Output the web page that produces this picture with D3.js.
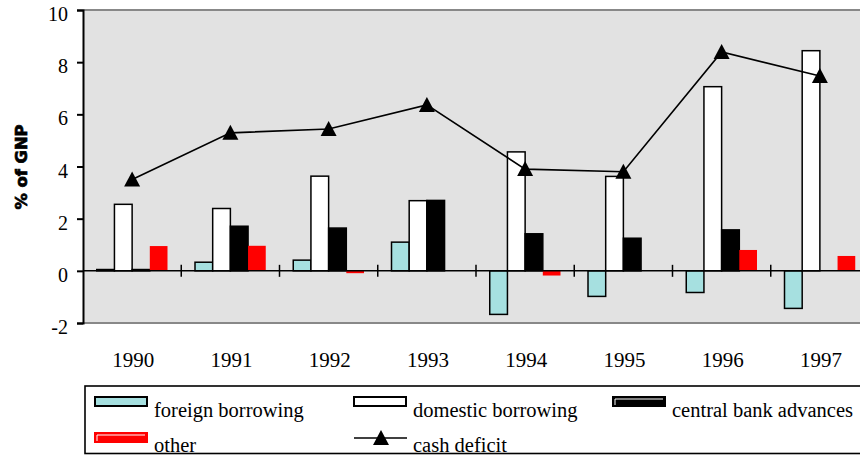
<!DOCTYPE html>
<html>
<head>
<meta charset="utf-8">
<script src="https://cdn.jsdelivr.net/npm/d3@7"></script>
<style>
  html, body { margin: 0; padding: 0; background: #fff; }
  svg { display: block; }
</style>
</head>
<body>
<svg id="chart" width="860" height="455"></svg>
<script>
// Financing of the budget deficit, % of GNP
const years = ["1990", "1991", "1992", "1993", "1994", "1995", "1996", "1997"];
const foreignBorrowing = [0.05, 0.33, 0.41, 1.1, -1.67, -0.98, -0.83, -1.44];
const domesticBorrowing = [2.55, 2.39, 3.63, 2.69, 4.56, 3.62, 7.06, 8.44];
const centralBankAdvances = [0.05, 1.71, 1.64, 2.7, 1.42, 1.25, 1.57, 0];
const other = [0.95, 0.96, -0.09, 0, -0.18, 0, 0.8, 0.57];
const cashDeficit = [3.5, 5.29, 5.44, 6.36, 3.9, 3.8, 8.39, 7.47];
const yTicks = [-2, 0, 2, 4, 6, 8, 10];

const SERIF = "'Liberation Serif', 'Times New Roman', Times, serif";

const series = [
  { key: "foreign", label: "foreign borrowing", values: foreignBorrowing, fill: "#a6e0e0", stroke: "#000" },
  { key: "domestic", label: "domestic borrowing", values: domesticBorrowing, fill: "#ffffff", stroke: "#000" },
  { key: "central", label: "central bank advances", values: centralBankAdvances, fill: "#000000", stroke: "#000" },
  { key: "other", label: "other", values: other, fill: "#ff0000", stroke: "none" }
];

const svg = d3.select("#chart");
const plot = { left: 83, right: 869, top: 10, bottom: 323 };

const x0 = d3.scaleBand().domain(years).range([plot.left, plot.right]).padding(0);
const bw = x0.bandwidth();
const x1 = d3.scaleBand().domain(series.map(s => s.key))
  .range([bw * 0.14, bw * 0.86]).padding(0);
const y = d3.scaleLinear().domain([-2, 10]).range([plot.bottom, plot.top]);

// plot background
svg.append("rect")
  .attr("x", plot.left).attr("y", plot.top)
  .attr("width", plot.right - plot.left).attr("height", plot.bottom - plot.top)
  .attr("fill", "#e2e2e2");
svg.append("line")
  .attr("x1", plot.left).attr("x2", plot.right)
  .attr("y1", plot.top).attr("y2", plot.top)
  .attr("stroke", "#888").attr("stroke-width", 2);
svg.append("line")
  .attr("x1", plot.left).attr("x2", plot.right)
  .attr("y1", plot.bottom).attr("y2", plot.bottom)
  .attr("stroke", "#888").attr("stroke-width", 2);

// bars
const groups = svg.append("g").selectAll("g")
  .data(years)
  .join("g")
  .attr("transform", d => `translate(${x0(d)},0)`);

groups.selectAll("rect")
  .data((d, i) => series.map(s => ({ s, v: s.values[i] })))
  .join("rect")
  .filter(d => d.v !== 0)
  .attr("x", d => x1(d.s.key))
  .attr("width", x1.bandwidth())
  .attr("y", d => y(Math.max(0, d.v)))
  .attr("height", d => Math.abs(y(d.v) - y(0)))
  .attr("fill", d => d.s.fill)
  .attr("stroke", d => d.s.stroke)
  .attr("stroke-width", 1.5);

// zero line with category separators
svg.append("line")
  .attr("x1", plot.left).attr("x2", plot.right)
  .attr("y1", y(0)).attr("y2", y(0))
  .attr("stroke", "#000").attr("stroke-width", 1.5);
svg.append("g").selectAll("line")
  .data(years.slice(1))
  .join("line")
  .attr("x1", d => x0(d)).attr("x2", d => x0(d))
  .attr("y1", y(0) - 6).attr("y2", y(0) + 6)
  .attr("stroke", "#000").attr("stroke-width", 1.5);

// y axis
const yAxis = svg.append("g")
  .attr("transform", `translate(${plot.left},0)`)
  .call(d3.axisLeft(y).tickValues(yTicks).tickSize(6).tickPadding(9).tickFormat(d => String(d)));
yAxis.select(".domain").attr("stroke", "#000").attr("stroke-width", 2);
yAxis.selectAll(".tick line").attr("stroke", "#000").attr("stroke-width", 2);
yAxis.selectAll(".tick text")
  .style("font-family", SERIF)
  .style("font-size", "20px")
  .attr("fill", "#000")
  .attr("dy", 10.5);

// y axis title
svg.append("text")
  .attr("transform", "translate(27,167) rotate(-90)")
  .attr("text-anchor", "middle")
  .style("font-family", "'DejaVu Sans', sans-serif")
  .style("font-weight", "bold")
  .style("font-size", "15px")
  .attr("stroke", "#000").attr("stroke-width", 0.7)
  .attr("textLength", 85).attr("lengthAdjust", "spacingAndGlyphs")
  .text("% of GNP");

// x labels
svg.append("g").selectAll("text")
  .data(years)
  .join("text")
  .attr("x", d => x0(d) + bw / 2 + 1)
  .attr("y", 367)
  .attr("text-anchor", "middle")
  .style("font-family", SERIF)
  .style("font-size", "21px")
  .text(d => d);

// cash deficit line with triangle markers
const cx = (d, i) => x0(years[i]) + bw / 2;
svg.append("path")
  .datum(cashDeficit)
  .attr("d", d3.line().x(cx).y(d => y(d)))
  .attr("fill", "none")
  .attr("stroke", "#000")
  .attr("stroke-width", 1.6);
const tri = "M0,-8L8,7L-8,7Z";
svg.append("g").selectAll("path")
  .data(cashDeficit)
  .join("path")
  .attr("transform", (d, i) => `translate(${cx(d, i)},${y(d)})`)
  .attr("d", tri)
  .attr("fill", "#000");

// legend
const lg = svg.append("g");
lg.append("rect")
  .attr("x", 85).attr("y", 386)
  .attr("width", 800).attr("height", 67.5)
  .attr("fill", "#fff").attr("stroke", "#000").attr("stroke-width", 1.6);

const legendItems = [
  { s: series[0], x: 95, row: 0 },
  { s: series[1], x: 354, row: 0 },
  { s: series[2], x: 613, row: 0 },
  { s: series[3], x: 95, row: 1 }
];
const rowSwatchY = [397, 433];
const rowTextY = [417, 452];

legendItems.forEach(it => {
  const sy = rowSwatchY[it.row];
  lg.append("rect")
    .attr("x", it.x).attr("y", sy)
    .attr("width", 52).attr("height", 9)
    .attr("fill", it.s.fill)
    .attr("stroke", it.s.key === "other" ? "#ff0000" : "#000")
    .attr("stroke-width", 2);
  if (it.s.key === "central" || it.s.key === "other") {
    lg.append("path")
      .attr("d", `M${it.x + 2},${sy + 8}V${sy + 2}H${it.x + 50}`)
      .attr("fill", "none").attr("stroke", "#fff").attr("stroke-width", 1);
  }
  lg.append("text")
    .attr("x", it.x + 59).attr("y", rowTextY[it.row])
    .style("font-family", SERIF)
    .style("font-size", "20.5px")
    .text(it.s.label);
});

lg.append("line")
  .attr("x1", 354).attr("x2", 407)
  .attr("y1", 438).attr("y2", 438)
  .attr("stroke", "#000").attr("stroke-width", 1.6);
lg.append("path")
  .attr("transform", "translate(381,438)")
  .attr("d", tri)
  .attr("fill", "#000");
lg.append("text")
  .attr("x", 413).attr("y", rowTextY[1])
  .style("font-family", SERIF)
  .style("font-size", "20.5px")
  .text("cash deficit");
</script>
</body>
</html>
